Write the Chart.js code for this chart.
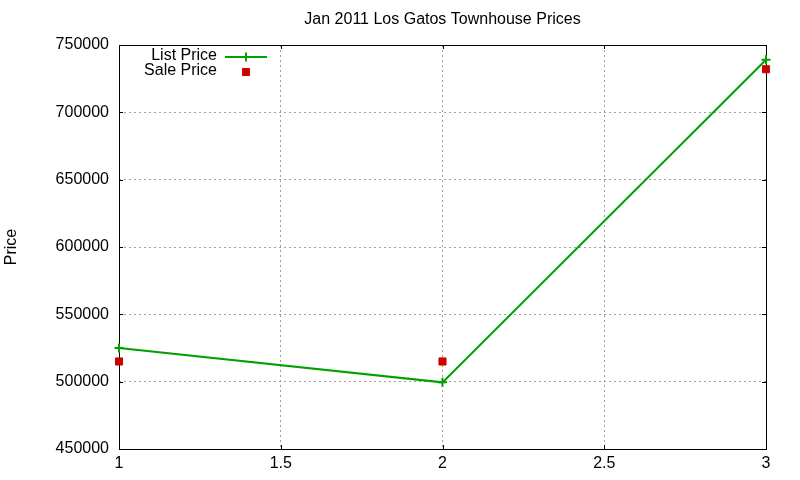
<!DOCTYPE html>
<html>
<head>
<meta charset="utf-8">
<script src="https://cdn.jsdelivr.net/npm/chart.js@4/dist/chart.umd.min.js"></script>
<style>
  html, body { margin: 0; padding: 0; background: #fff; }
  #wrap { width: 800px; height: 480px; }
</style>
</head>
<body>
<div id="wrap"><canvas id="priceChart" width="800" height="480"></canvas></div>
<script>
const xValues = [1, 2, 3];
const listPrices = [525000, 499500, 739000];
const salePrices = [515000, 515000, 732000];
const seriesNames = ['List Price', 'Sale Price'];
const chartTitle = 'Jan 2011 Los Gatos Townhouse Prices';

const green = 'rgb(0, 160, 0)';
const red = 'rgb(204, 0, 0)';
const font = 'Liberation Sans, Arial, sans-serif';

// gnuplot style frame with inward ticks, title centred on the plot, legend inside
const framePlugin = {
    id: 'frame',
    beforeDatasetsDraw(chart) {
        const { ctx, chartArea: a, scales } = chart;
        ctx.save();
        ctx.strokeStyle = '#000';
        ctx.lineWidth = 1;
        ctx.beginPath();
        scales.y.ticks.forEach(t => {
            const y = Math.round(scales.y.getPixelForValue(t.value)) + 0.5;
            ctx.moveTo(a.left, y); ctx.lineTo(a.left + 4, y);
            ctx.moveTo(a.right, y); ctx.lineTo(a.right - 4, y);
        });
        scales.x.ticks.forEach(t => {
            const x = Math.round(scales.x.getPixelForValue(t.value)) + 0.5;
            ctx.moveTo(x, a.bottom); ctx.lineTo(x, a.bottom - 4);
            ctx.moveTo(x, a.top); ctx.lineTo(x, a.top + 4);
        });
        ctx.stroke();
        ctx.strokeRect(Math.round(a.left) + 0.5, Math.round(a.top) + 0.5,
            Math.round(a.right - a.left), Math.round(a.bottom - a.top));

        ctx.font = '16px ' + font;
        ctx.fillStyle = '#000';
        ctx.textAlign = 'center';
        ctx.textBaseline = 'middle';
        ctx.fillText(chartTitle, (a.left + a.right) / 2, 20);
        ctx.restore();
    },
    afterDraw(chart) {
        const { ctx, chartArea: a } = chart;
        const textRight = a.left + 98;
        const sampleX = a.left + 127;
        ctx.save();
        ctx.font = '16px ' + font;
        ctx.fillStyle = '#000';
        ctx.textAlign = 'right';
        ctx.textBaseline = 'middle';
        ctx.fillText(seriesNames[0], textRight, a.top + 11);
        ctx.fillText(seriesNames[1], textRight, a.top + 26);
        ctx.strokeStyle = green;
        ctx.lineWidth = 2;
        ctx.beginPath();
        ctx.moveTo(sampleX - 21, a.top + 12);
        ctx.lineTo(sampleX + 21, a.top + 12);
        ctx.stroke();
        Chart.helpers.drawPoint(ctx, { pointStyle: 'cross', radius: 4.5, borderWidth: 2 }, sampleX, a.top + 12);
        ctx.fillStyle = red;
        ctx.strokeStyle = red;
        ctx.lineWidth = 1;
        Chart.helpers.drawPoint(ctx, { pointStyle: 'rect', radius: 5, borderWidth: 1 }, sampleX, a.top + 27);
        ctx.restore();
    }
};

new Chart(document.getElementById('priceChart'), {
    type: 'scatter',
    data: {
        datasets: [
            {
                label: seriesNames[0],
                data: xValues.map((x, i) => ({ x: x, y: listPrices[i] })),
                showLine: true,
                clip: false,
                borderColor: green,
                backgroundColor: green,
                borderWidth: 2,
                tension: 0,
                pointStyle: 'cross',
                pointRadius: 4.5,
                pointBorderWidth: 2,
                pointHoverRadius: 4.5
            },
            {
                label: seriesNames[1],
                data: xValues.map((x, i) => ({ x: x, y: salePrices[i] })),
                showLine: false,
                clip: false,
                borderColor: red,
                backgroundColor: red,
                pointStyle: 'rect',
                pointRadius: 5,
                pointBorderWidth: 1,
                pointHoverRadius: 5
            }
        ]
    },
    options: {
        responsive: false,
        animation: false,
        layout: { padding: { top: 45, right: 34, bottom: 0, left: 0 } },
        plugins: {
            legend: { display: false },
            tooltip: { enabled: false },
            title: { display: false }
        },
        scales: {
            x: {
                type: 'linear',
                min: 1,
                max: 3,
                ticks: {
                    stepSize: 0.5, color: '#000', padding: 5,
                    font: { family: font, size: 16 },
                    callback: v => String(v)
                },
                grid: { color: '#a0a0a0', lineWidth: 1, drawTicks: false },
                border: { display: false, dash: [2, 3] },
                afterFit(scale) { scale.height = 31; }
            },
            y: {
                min: 450000,
                max: 750000,
                ticks: {
                    stepSize: 50000, color: '#000', padding: 10,
                    font: { family: font, size: 16 },
                    callback: v => String(v)
                },
                grid: { color: '#a0a0a0', lineWidth: 1, drawTicks: false },
                border: { display: false, dash: [2, 3] },
                title: {
                    display: true,
                    text: 'Price',
                    color: '#000',
                    font: { family: font, size: 16 },
                    padding: { top: 2, bottom: 0 }
                },
                afterFit(scale) { scale.width = 119; }
            }
        }
    },
    plugins: [framePlugin]
});
</script>
</body>
</html>
